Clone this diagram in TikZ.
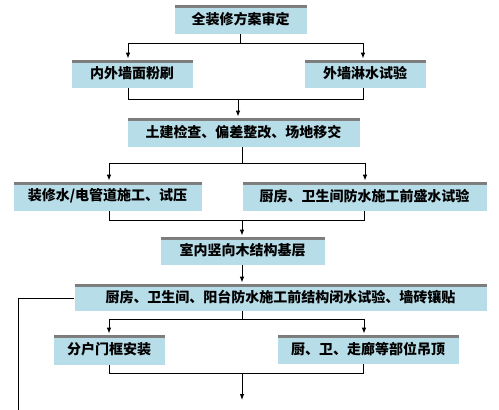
\documentclass[tikz,border=0pt]{standalone}
\usepackage{fontspec}
\newfontfamily\cjk{Noto Sans CJK SC}
\usetikzlibrary{arrows.meta,calc}
\definecolor{boxblue}{RGB}{183,221,232}
\definecolor{stripgray}{RGB}{120,120,120}
\tikzset{
  box/.style={fill=boxblue, draw=white, line width=0.6pt, inner sep=0pt,
    font=\cjk\bfseries\fontsize{14}{16}\selectfont,
    path picture={\shade[top color=stripgray, bottom color=gray!45]
      (path picture bounding box.north west) rectangle
      ([yshift=-3.5pt]path picture bounding box.north east);}},
  ln/.style={line width=1pt, black},
  arr/.style={ln, -{Latex[length=6pt,width=4.5pt]}}
}
\begin{document}
\begin{tikzpicture}[x=1pt,y=-1pt]
\useasboundingbox (0,0) rectangle (499,410);
\fill[white] (0,0) rectangle (499,410);

\node[box, minimum width=133pt, minimum height=30pt] (b1) at (240.5,19) {全装修方案审定};
\node[box, minimum width=122pt, minimum height=29pt] (b2) at (132,73.5) {内外墙面粉刷};
\node[box, minimum width=122pt, minimum height=29pt] (b3) at (365,73.5) {外墙淋水试验};
\node[box, minimum width=233pt, minimum height=30pt] (b4) at (243.5,132) {土建检查、偏差整改、场地移交};
\node[box, minimum width=189pt, minimum height=30pt] (b5) at (107.5,196) {装修水/电管道施工、试压};
\node[box, minimum width=245pt, minimum height=30pt] (b6) at (364.5,196) {厨房、卫生间防水施工前盛水试验};
\node[box, minimum width=165pt, minimum height=29pt] (b7) at (242.5,250.5) {室内竖向木结构基层};
\node[box, minimum width=413pt, minimum height=28pt] (b8) at (280.5,297) {厨房、卫生间、阳台防水施工前结构闭水试验、墙砖镶贴};
\node[box, minimum width=112pt, minimum height=31pt] (b9) at (109,349.5) {分户门框安装};
\node[box, minimum width=182pt, minimum height=30pt] (b10) at (368,349) {厨、卫、走廊等部位吊顶};

% b1 -> b2, b3
\draw[ln] (b1.south) -- ++(0,9) coordinate (j1);
\draw[arr] (j1) -| ([xshift=-4pt]b2.north);
\draw[arr] (j1) -| ([xshift=-2pt]b3.north);
% b2, b3 -> b4
\draw[ln] ([xshift=-4pt]b2.south) |- ([xshift=-2pt,yshift=-11pt]b3.south) -- ([xshift=-2pt]b3.south);
\draw[arr] ([xshift=-5.5pt,yshift=18pt]b4.north) -- ([xshift=-5.5pt]b4.north);
% b4 -> b5, b6
\draw[ln] ([xshift=-1.5pt]b4.south) -- ++(0,16) coordinate (j2);
\draw[arr] (j2) -| ([xshift=1.5pt]b5.north);
\draw[arr] (j2) -| ([xshift=0.5pt]b6.north);
% b5, b6 -> b7
\draw[ln] ([xshift=1.5pt]b5.south) |- ([xshift=-0.5pt,yshift=-9pt]b6.south) -- ([xshift=-0.5pt]b6.south);
\draw[arr] ([xshift=-0.5pt,yshift=16pt]b7.north) -- ([xshift=-0.5pt]b7.north);
% b7 -> b8
\draw[arr] ([xshift=-0.5pt]b7.south) -- ([xshift=-0.5pt]b7.south |- b8.north);
% b8 left line
\coordinate (e1) at (18,412);
\draw[ln] ([yshift=-1pt]b8.west) -| (e1);
% b8 -> b9, b10
\draw[ln] ([xshift=-38.5pt]b8.south) -- ++(0,8) coordinate (j3);
\draw[arr] (j3) -| (b9.north);
\draw[arr] (j3) -| ([xshift=-4pt]b10.north);
% b9, b10 -> next
\draw[ln] (b9.south) |- ([xshift=-5pt,yshift=-9pt]b10.south) -- ([xshift=-5pt]b10.south);
\coordinate (j4) at (242,373);
\coordinate (e2) at (242,400);
\draw[arr] (j4) -- (e2);
\end{tikzpicture}
\end{document}
